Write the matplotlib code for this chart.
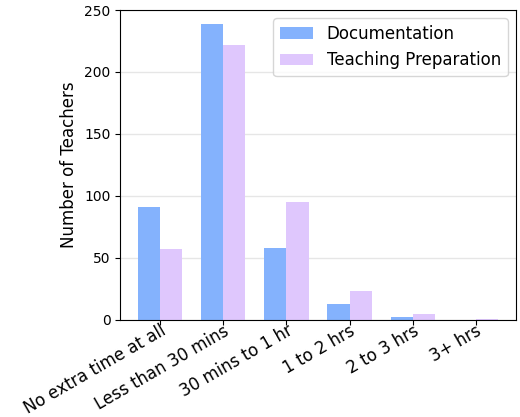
import numpy as np
import matplotlib
matplotlib.use('Agg')
import matplotlib.pyplot as plt

categories = ['No extra time at all', 'Less than 30 mins', '30 mins to 1 hr',
              '1 to 2 hrs', '2 to 3 hrs', '3+ hrs']
documentation = [91, 239, 58, 13, 2, 0]
teaching_prep = [57, 222, 95, 23, 5, 1]

x = np.arange(len(categories))
w = 0.35

fig = plt.figure(figsize=(5.2, 4.17), dpi=100)
ax = fig.add_axes([0.231, 0.233, 0.761, 0.743])
ax.bar(x - w/2, documentation, w, color='#84b2fd', label='Documentation')
ax.bar(x + w/2, teaching_prep, w, color='#dfc7fd', label='Teaching Preparation')

ax.set_ylim(0, 250)
ax.set_yticks([0, 50, 100, 150, 200, 250])
ax.set_xticks(x)
ax.set_xticklabels(categories, rotation=30, ha='right', va='top',
                   rotation_mode='anchor', fontsize=12)
ax.tick_params(axis='x', pad=-2)
ax.tick_params(axis='y', labelsize=10)
ax.set_ylabel('Number of Teachers', fontsize=12)
ax.yaxis.grid(True, color='#e6e6e6', linewidth=1)
ax.set_axisbelow(True)
ax.legend(fontsize=12, loc='upper right')

fig.savefig('out.png', dpi=100)
